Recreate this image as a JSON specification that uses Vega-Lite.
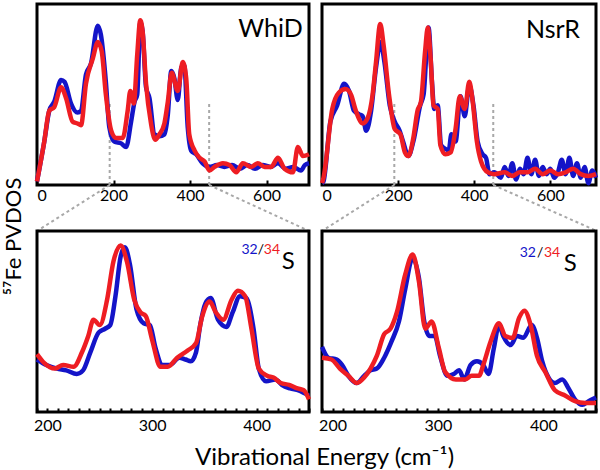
{
  "$schema": "https://vega.github.io/schema/vega-lite/v6.json",
  "background": "white",
  "padding": {"left": 0, "top": 2, "right": 0, "bottom": 0},
  "columns": 2,
  "spacing": {"row": 46, "column": 13},
  "bounds": "flush",
  "datasets": {
    "whid": [
      {"s":"32","e":0,"v":2},{"s":"32","e":19,"v":24},{"s":"32","e":32,"v":41},{"s":"32","e":45,"v":46},{"s":"32","e":63,"v":58},{"s":"32","e":72,"v":57},{"s":"32","e":89,"v":45},{"s":"32","e":106,"v":40},{"s":"32","e":115,"v":41},{"s":"32","e":128,"v":61},{"s":"32","e":141,"v":67},{"s":"32","e":159,"v":88},{"s":"32","e":167,"v":83},{"s":"32","e":180,"v":57},{"s":"32","e":189,"v":32},{"s":"32","e":202,"v":24},{"s":"32","e":220,"v":23},{"s":"32","e":233,"v":21},{"s":"32","e":246,"v":35},{"s":"32","e":255,"v":46},{"s":"32","e":262,"v":50},{"s":"32","e":270,"v":90},{"s":"32","e":276,"v":85},{"s":"32","e":285,"v":54},{"s":"32","e":294,"v":48},{"s":"32","e":307,"v":28},{"s":"32","e":320,"v":27},{"s":"32","e":333,"v":28},{"s":"32","e":342,"v":39},{"s":"32","e":351,"v":63},{"s":"32","e":359,"v":59},{"s":"32","e":368,"v":47},{"s":"32","e":377,"v":65},{"s":"32","e":385,"v":66},{"s":"32","e":394,"v":32},{"s":"32","e":403,"v":19},{"s":"32","e":416,"v":17},{"s":"32","e":433,"v":12},{"s":"32","e":451,"v":10},{"s":"32","e":470,"v":11},{"s":"32","e":490,"v":10},{"s":"32","e":510,"v":11},{"s":"32","e":530,"v":9},{"s":"32","e":550,"v":11},{"s":"32","e":570,"v":9},{"s":"32","e":590,"v":11},{"s":"32","e":610,"v":10},{"s":"32","e":630,"v":12},{"s":"32","e":650,"v":9},{"s":"32","e":670,"v":10},{"s":"32","e":690,"v":8},{"s":"32","e":700,"v":11},{"s":"32","e":711,"v":12},
      {"s":"34","e":0,"v":2},{"s":"34","e":19,"v":24},{"s":"34","e":32,"v":41},{"s":"34","e":45,"v":43},{"s":"34","e":63,"v":54},{"s":"34","e":76,"v":48},{"s":"34","e":93,"v":35},{"s":"34","e":106,"v":34},{"s":"34","e":115,"v":33},{"s":"34","e":128,"v":56},{"s":"34","e":146,"v":70},{"s":"34","e":159,"v":79},{"s":"34","e":169,"v":74},{"s":"34","e":180,"v":50},{"s":"34","e":194,"v":30},{"s":"34","e":207,"v":26},{"s":"34","e":224,"v":26},{"s":"34","e":237,"v":41},{"s":"34","e":244,"v":52},{"s":"34","e":253,"v":45},{"s":"34","e":262,"v":72},{"s":"34","e":270,"v":91},{"s":"34","e":276,"v":85},{"s":"34","e":285,"v":56},{"s":"34","e":298,"v":34},{"s":"34","e":309,"v":25},{"s":"34","e":320,"v":28},{"s":"34","e":333,"v":34},{"s":"34","e":342,"v":46},{"s":"34","e":352,"v":62},{"s":"34","e":368,"v":52},{"s":"34","e":381,"v":68},{"s":"34","e":390,"v":59},{"s":"34","e":398,"v":28},{"s":"34","e":412,"v":19},{"s":"34","e":425,"v":15},{"s":"34","e":438,"v":13},{"s":"34","e":451,"v":8},{"s":"34","e":464,"v":10},{"s":"34","e":486,"v":12},{"s":"34","e":503,"v":11},{"s":"34","e":521,"v":7},{"s":"34","e":538,"v":12},{"s":"34","e":560,"v":10},{"s":"34","e":577,"v":12},{"s":"34","e":595,"v":10},{"s":"34","e":612,"v":10},{"s":"34","e":630,"v":15},{"s":"34","e":647,"v":9},{"s":"34","e":669,"v":7},{"s":"34","e":682,"v":21},{"s":"34","e":695,"v":16},{"s":"34","e":711,"v":17}
    ],
    "nsrr": [
      {"s":"32","e":0,"v":1},{"s":"32","e":4,"v":2},{"s":"32","e":22,"v":35},{"s":"32","e":40,"v":44},{"s":"32","e":58,"v":56},{"s":"32","e":71,"v":52},{"s":"32","e":84,"v":41},{"s":"32","e":98,"v":39},{"s":"32","e":107,"v":38},{"s":"32","e":116,"v":30},{"s":"32","e":129,"v":41},{"s":"32","e":142,"v":65},{"s":"32","e":154,"v":79},{"s":"32","e":164,"v":68},{"s":"32","e":178,"v":44},{"s":"32","e":191,"v":35},{"s":"32","e":204,"v":30},{"s":"32","e":213,"v":24},{"s":"32","e":227,"v":16},{"s":"32","e":240,"v":24},{"s":"32","e":258,"v":44},{"s":"32","e":267,"v":50},{"s":"32","e":280,"v":87},{"s":"32","e":289,"v":57},{"s":"32","e":295,"v":42},{"s":"32","e":304,"v":44},{"s":"32","e":313,"v":22},{"s":"32","e":324,"v":20},{"s":"32","e":333,"v":19},{"s":"32","e":340,"v":28},{"s":"32","e":351,"v":24},{"s":"32","e":364,"v":49},{"s":"32","e":375,"v":38},{"s":"32","e":387,"v":55},{"s":"32","e":398,"v":44},{"s":"32","e":409,"v":24},{"s":"32","e":422,"v":17},{"s":"32","e":431,"v":15},{"s":"32","e":440,"v":6},{"s":"32","e":453,"v":7},{"s":"32","e":460,"v":6},{"s":"32","e":470,"v":4},{"s":"32","e":480,"v":10},{"s":"32","e":490,"v":5},{"s":"32","e":500,"v":12},{"s":"32","e":510,"v":3},{"s":"32","e":520,"v":9},{"s":"32","e":530,"v":6},{"s":"32","e":540,"v":15},{"s":"32","e":550,"v":6},{"s":"32","e":560,"v":14},{"s":"32","e":570,"v":5},{"s":"32","e":580,"v":10},{"s":"32","e":590,"v":6},{"s":"32","e":600,"v":9},{"s":"32","e":610,"v":4},{"s":"32","e":620,"v":7},{"s":"32","e":630,"v":14},{"s":"32","e":640,"v":6},{"s":"32","e":650,"v":15},{"s":"32","e":660,"v":5},{"s":"32","e":670,"v":12},{"s":"32","e":680,"v":4},{"s":"32","e":690,"v":10},{"s":"32","e":700,"v":1},{"s":"32","e":710,"v":8},{"s":"32","e":720,"v":4},
      {"s":"34","e":0,"v":1},{"s":"34","e":4,"v":4},{"s":"34","e":27,"v":42},{"s":"34","e":44,"v":51},{"s":"34","e":62,"v":53},{"s":"34","e":76,"v":50},{"s":"34","e":89,"v":41},{"s":"34","e":107,"v":34},{"s":"34","e":120,"v":37},{"s":"34","e":133,"v":50},{"s":"34","e":142,"v":68},{"s":"34","e":153,"v":89},{"s":"34","e":162,"v":77},{"s":"34","e":176,"v":50},{"s":"34","e":191,"v":31},{"s":"34","e":206,"v":28},{"s":"34","e":218,"v":18},{"s":"34","e":227,"v":16},{"s":"34","e":240,"v":26},{"s":"34","e":251,"v":41},{"s":"34","e":260,"v":46},{"s":"34","e":271,"v":74},{"s":"34","e":278,"v":87},{"s":"34","e":286,"v":68},{"s":"34","e":293,"v":44},{"s":"34","e":304,"v":42},{"s":"34","e":311,"v":22},{"s":"34","e":324,"v":17},{"s":"34","e":338,"v":18},{"s":"34","e":351,"v":31},{"s":"34","e":362,"v":49},{"s":"34","e":375,"v":42},{"s":"34","e":387,"v":57},{"s":"34","e":396,"v":46},{"s":"34","e":407,"v":24},{"s":"34","e":418,"v":13},{"s":"34","e":436,"v":7},{"s":"34","e":453,"v":6},{"s":"34","e":480,"v":7},{"s":"34","e":500,"v":5},{"s":"34","e":520,"v":7},{"s":"34","e":540,"v":7},{"s":"34","e":560,"v":9},{"s":"34","e":580,"v":6},{"s":"34","e":600,"v":8},{"s":"34","e":620,"v":6},{"s":"34","e":640,"v":7},{"s":"34","e":660,"v":9},{"s":"34","e":680,"v":6},{"s":"34","e":700,"v":5},{"s":"34","e":720,"v":6}
    ],
    "whidz": [
      {"s":"32","e":190,"v":29},{"s":"32","e":199,"v":26},{"s":"32","e":209,"v":24},{"s":"32","e":218,"v":23},{"s":"32","e":228,"v":21},{"s":"32","e":234,"v":23},{"s":"32","e":241,"v":33},{"s":"32","e":249,"v":44},{"s":"32","e":255,"v":46},{"s":"32","e":260,"v":48},{"s":"32","e":265,"v":64},{"s":"32","e":270,"v":86},{"s":"32","e":274,"v":91},{"s":"32","e":279,"v":81},{"s":"32","e":285,"v":57},{"s":"32","e":292,"v":49},{"s":"32","e":298,"v":48},{"s":"32","e":303,"v":36},{"s":"32","e":310,"v":26},{"s":"32","e":317,"v":26},{"s":"32","e":326,"v":30},{"s":"32","e":332,"v":29},{"s":"32","e":337,"v":28},{"s":"32","e":342,"v":33},{"s":"32","e":346,"v":48},{"s":"32","e":351,"v":60},{"s":"32","e":356,"v":63},{"s":"32","e":363,"v":51},{"s":"32","e":371,"v":47},{"s":"32","e":377,"v":55},{"s":"32","e":384,"v":64},{"s":"32","e":390,"v":63},{"s":"32","e":397,"v":46},{"s":"32","e":402,"v":24},{"s":"32","e":409,"v":17},{"s":"32","e":418,"v":18},{"s":"32","e":424,"v":15},{"s":"32","e":432,"v":13},{"s":"32","e":440,"v":12},{"s":"32","e":450,"v":9},
      {"s":"34","e":190,"v":32},{"s":"34","e":197,"v":27},{"s":"34","e":207,"v":24},{"s":"34","e":215,"v":26},{"s":"34","e":225,"v":25},{"s":"34","e":233,"v":33},{"s":"34","e":239,"v":42},{"s":"34","e":244,"v":51},{"s":"34","e":250,"v":48},{"s":"34","e":257,"v":62},{"s":"34","e":263,"v":83},{"s":"34","e":270,"v":92},{"s":"34","e":276,"v":83},{"s":"34","e":283,"v":62},{"s":"34","e":289,"v":55},{"s":"34","e":294,"v":53},{"s":"34","e":300,"v":40},{"s":"34","e":308,"v":25},{"s":"34","e":315,"v":25},{"s":"34","e":324,"v":30},{"s":"34","e":334,"v":34},{"s":"34","e":342,"v":38},{"s":"34","e":348,"v":53},{"s":"34","e":355,"v":61},{"s":"34","e":361,"v":55},{"s":"34","e":368,"v":51},{"s":"34","e":376,"v":62},{"s":"34","e":382,"v":67},{"s":"34","e":389,"v":64},{"s":"34","e":395,"v":46},{"s":"34","e":402,"v":24},{"s":"34","e":410,"v":20},{"s":"34","e":416,"v":19},{"s":"34","e":423,"v":16},{"s":"34","e":431,"v":15},{"s":"34","e":439,"v":13},{"s":"34","e":445,"v":12},{"s":"34","e":450,"v":7}
    ],
    "nsrrz": [
      {"s":"32","e":190,"v":36},{"s":"32","e":196,"v":30},{"s":"32","e":204,"v":29},{"s":"32","e":209,"v":26},{"s":"32","e":215,"v":20},{"s":"32","e":223,"v":16},{"s":"32","e":230,"v":20},{"s":"32","e":236,"v":23},{"s":"32","e":242,"v":24},{"s":"32","e":249,"v":30},{"s":"32","e":256,"v":39},{"s":"32","e":263,"v":50},{"s":"32","e":269,"v":68},{"s":"32","e":276,"v":85},{"s":"32","e":282,"v":74},{"s":"32","e":287,"v":50},{"s":"32","e":292,"v":42},{"s":"32","e":297,"v":42},{"s":"32","e":302,"v":31},{"s":"32","e":309,"v":20},{"s":"32","e":315,"v":21},{"s":"32","e":320,"v":23},{"s":"32","e":325,"v":18},{"s":"32","e":331,"v":26},{"s":"32","e":337,"v":28},{"s":"32","e":343,"v":26},{"s":"32","e":348,"v":21},{"s":"32","e":353,"v":35},{"s":"32","e":358,"v":48},{"s":"32","e":362,"v":42},{"s":"32","e":369,"v":37},{"s":"32","e":375,"v":42},{"s":"32","e":381,"v":41},{"s":"32","e":389,"v":48},{"s":"32","e":394,"v":41},{"s":"32","e":399,"v":28},{"s":"32","e":405,"v":19},{"s":"32","e":411,"v":16},{"s":"32","e":418,"v":18},{"s":"32","e":424,"v":13},{"s":"32","e":430,"v":7},{"s":"32","e":437,"v":4},{"s":"32","e":443,"v":6},{"s":"32","e":450,"v":8},
      {"s":"34","e":190,"v":30},{"s":"34","e":199,"v":29},{"s":"34","e":207,"v":24},{"s":"34","e":215,"v":20},{"s":"34","e":223,"v":16},{"s":"34","e":230,"v":19},{"s":"34","e":236,"v":24},{"s":"34","e":242,"v":31},{"s":"34","e":249,"v":43},{"s":"34","e":255,"v":46},{"s":"34","e":261,"v":55},{"s":"34","e":269,"v":76},{"s":"34","e":276,"v":87},{"s":"34","e":282,"v":72},{"s":"34","e":288,"v":46},{"s":"34","e":294,"v":50},{"s":"34","e":301,"v":35},{"s":"34","e":307,"v":22},{"s":"34","e":317,"v":18},{"s":"34","e":326,"v":18},{"s":"34","e":332,"v":20},{"s":"34","e":339,"v":20},{"s":"34","e":343,"v":26},{"s":"34","e":350,"v":39},{"s":"34","e":358,"v":49},{"s":"34","e":364,"v":42},{"s":"34","e":371,"v":41},{"s":"34","e":377,"v":52},{"s":"34","e":382,"v":56},{"s":"34","e":388,"v":48},{"s":"34","e":394,"v":31},{"s":"34","e":402,"v":22},{"s":"34","e":411,"v":12},{"s":"34","e":421,"v":9},{"s":"34","e":430,"v":6},{"s":"34","e":440,"v":5},{"s":"34","e":450,"v":5}
    ]
  },
  "concat": [
    {
      "width": 272, "height": 181,
      "layer": [
        {"data": {"values": [{"e": 190, "e2": 0}, {"e": 450, "e2": 711}]},
         "mark": {"type": "rule", "color": "#a8a8a8", "strokeWidth": 2, "strokeDash": [3, 3]},
         "encoding": {
           "x": {"field": "e", "type": "quantitative", "scale": {"domain": [0, 711], "nice": false, "zero": false},
                 "axis": {"values": [0,50,100,150,200,250,300,350,400,450,500,550,600,650,700], "labelExpr": "datum.value % 200 === 0 ? datum.label : ''", "labelOverlap": false, "tickSize": -5, "labelPadding": 7, "title": null}},
           "x2": {"field": "e2"},
           "y": {"datum": 0, "scale": {"domain": [0, 100], "nice": false},
                 "axis": {"title": "⁵⁷Fe PVDOS", "labels": false, "ticks": false, "domain": false, "titleFontSize": 22, "titleX": -12, "titleY": 232, "titleAlign": "center", "titleAngle": -90}},
           "y2": {"datum": -25.4}
         }},
        {"data": {"values": [{"e": 190}, {"e": 450}]},
         "mark": {"type": "rule", "color": "#a8a8a8", "strokeWidth": 2, "strokeDash": [3, 3]},
         "encoding": {
           "x": {"field": "e", "type": "quantitative", "scale": {"domain": [0, 711], "nice": false, "zero": false}},
           "y": {"datum": 0, "scale": {"domain": [0, 100], "nice": false}},
           "y2": {"datum": 45}
         }},
        {"data": {"name": "whid"},
         "mark": {"type": "line", "strokeWidth": 4.5, "interpolate": "monotone"},
         "encoding": {
           "x": {"field": "e", "type": "quantitative", "scale": {"domain": [0, 711], "nice": false, "zero": false}},
           "y": {"field": "v", "type": "quantitative", "scale": {"domain": [0, 100], "nice": false}},
           "color": {"field": "s", "type": "nominal", "scale": {"domain": ["32", "34"], "range": ["#1414c8", "#ee1d23"]}, "legend": null}
         }},
        {"data": {"values": [{"t": "WhiD"}]},
         "mark": {"type": "text", "align": "right", "baseline": "alphabetic", "fontSize": 25, "color": "black"},
         "encoding": {
           "x": {"datum": 695, "scale": {"domain": [0, 711], "nice": false, "zero": false}},
           "y": {"datum": 81.8, "scale": {"domain": [0, 100], "nice": false}},
           "text": {"field": "t"}
         }},
        {"data": {"values": [{"t": "32"}]},
         "mark": {"type": "text", "align": "right", "baseline": "alphabetic", "fontSize": 14, "color": "#1414c8"},
         "encoding": {"x": {"datum": 577, "scale": {"domain": [0, 711], "nice": false, "zero": false}}, "y": {"datum": -38.1, "scale": {"domain": [0, 100], "nice": false}}, "text": {"field": "t"}}},
        {"data": {"values": [{"t": "/"}]},
         "mark": {"type": "text", "align": "center", "baseline": "alphabetic", "fontSize": 14, "color": "black"},
         "encoding": {"x": {"datum": 585, "scale": {"domain": [0, 711], "nice": false, "zero": false}}, "y": {"datum": -38.1, "scale": {"domain": [0, 100], "nice": false}}, "text": {"field": "t"}}},
        {"data": {"values": [{"t": "34"}]},
         "mark": {"type": "text", "align": "left", "baseline": "alphabetic", "fontSize": 14, "color": "#ee1d23"},
         "encoding": {"x": {"datum": 593, "scale": {"domain": [0, 711], "nice": false, "zero": false}}, "y": {"datum": -38.1, "scale": {"domain": [0, 100], "nice": false}}, "text": {"field": "t"}}},
        {"data": {"values": [{"t": "S"}]},
         "mark": {"type": "text", "align": "left", "baseline": "alphabetic", "fontSize": 24, "color": "black"},
         "encoding": {"x": {"datum": 640, "scale": {"domain": [0, 711], "nice": false, "zero": false}}, "y": {"datum": -46.4, "scale": {"domain": [0, 100], "nice": false}}, "text": {"field": "t"}}}
      ]
    },
    {
      "width": 274, "height": 181,
      "layer": [
        {"data": {"values": [{"e": 190, "e2": 0}, {"e": 450, "e2": 722}]},
         "mark": {"type": "rule", "color": "#a8a8a8", "strokeWidth": 2, "strokeDash": [3, 3]},
         "encoding": {
           "x": {"field": "e", "type": "quantitative", "scale": {"domain": [0, 720], "nice": false, "zero": false},
                 "axis": {"values": [0,50,100,150,200,250,300,350,400,450,500,550,600,650,700], "labelExpr": "datum.value % 200 === 0 ? datum.label : ''", "labelOverlap": false, "tickSize": -5, "labelPadding": 7, "title": null}},
           "x2": {"field": "e2"},
           "y": {"datum": 0, "scale": {"domain": [0, 100], "nice": false}, "axis": null},
           "y2": {"datum": -25.4}
         }},
        {"data": {"values": [{"e": 190}, {"e": 450}]},
         "mark": {"type": "rule", "color": "#a8a8a8", "strokeWidth": 2, "strokeDash": [3, 3]},
         "encoding": {
           "x": {"field": "e", "type": "quantitative", "scale": {"domain": [0, 720], "nice": false, "zero": false}},
           "y": {"datum": 0, "scale": {"domain": [0, 100], "nice": false}},
           "y2": {"datum": 45}
         }},
        {"data": {"name": "nsrr"},
         "mark": {"type": "line", "strokeWidth": 4.5, "interpolate": "monotone"},
         "encoding": {
           "x": {"field": "e", "type": "quantitative", "scale": {"domain": [0, 720], "nice": false, "zero": false}},
           "y": {"field": "v", "type": "quantitative", "scale": {"domain": [0, 100], "nice": false}},
           "color": {"field": "s", "type": "nominal", "scale": {"domain": ["32", "34"], "range": ["#1414c8", "#ee1d23"]}, "legend": null}
         }},
        {"data": {"values": [{"t": "NsrR"}]},
         "mark": {"type": "text", "align": "right", "baseline": "alphabetic", "fontSize": 25, "color": "black"},
         "encoding": {
           "x": {"datum": 678, "scale": {"domain": [0, 720], "nice": false, "zero": false}},
           "y": {"datum": 81, "scale": {"domain": [0, 100], "nice": false}},
           "text": {"field": "t"}
         }}
      ]
    },
    {
      "width": 272, "height": 181,
      "layer": [
        {"data": {"name": "whidz"},
         "mark": {"type": "line", "strokeWidth": 4.5, "interpolate": "monotone"},
         "encoding": {
           "x": {"field": "e", "type": "quantitative", "scale": {"domain": [190, 450], "nice": false, "zero": false},
                 "axis": {"values": [190,200,210,220,230,240,250,260,270,280,290,300,310,320,330,340,350,360,370,380,390,400,410,420,430,440,450],
                          "labelExpr": "datum.value % 100 === 0 ? datum.label : ''",
                          "labelOverlap": false,
                          "tickSize": -4,
                          "labelPadding": 9,
                          "title": "Vibrational Energy (cm⁻¹)", "titleFontSize": 24, "titleX": 287, "titleY": 52, "titleAlign": "center", "titleBaseline": "alphabetic"}},
           "y": {"field": "v", "type": "quantitative", "scale": {"domain": [0, 100], "nice": false}, "axis": null},
           "color": {"field": "s", "type": "nominal", "scale": {"domain": ["32", "34"], "range": ["#1414c8", "#ee1d23"]}, "legend": null}
         }}
      ]
    },
    {
      "width": 274, "height": 181,
      "layer": [
        {"data": {"name": "nsrrz"},
         "mark": {"type": "line", "strokeWidth": 4.5, "interpolate": "monotone"},
         "encoding": {
           "x": {"field": "e", "type": "quantitative", "scale": {"domain": [190, 450], "nice": false, "zero": false},
                 "axis": {"values": [190,200,210,220,230,240,250,260,270,280,290,300,310,320,330,340,350,360,370,380,390,400,410,420,430,440,450],
                          "labelExpr": "datum.value % 100 === 0 ? datum.label : ''",
                          "labelOverlap": false, "tickSize": -4, "labelPadding": 9, "title": null}},
           "y": {"field": "v", "type": "quantitative", "scale": {"domain": [0, 100], "nice": false}, "axis": null},
           "color": {"field": "s", "type": "nominal", "scale": {"domain": ["32", "34"], "range": ["#1414c8", "#ee1d23"]}, "legend": null}
         }},
        {"data": {"values": [{"t": "32"}]},
         "mark": {"type": "text", "align": "right", "baseline": "alphabetic", "fontSize": 14, "color": "#1414c8"},
         "encoding": {
           "x": {"datum": 393, "type": "quantitative", "scale": {"domain": [190, 450], "nice": false, "zero": false},
                 "axis": {"values": [190,200,210,220,230,240,250,260,270,280,290,300,310,320,330,340,350,360,370,380,390,400,410,420,430,440,450], "labelExpr": "datum.value % 100 === 0 ? datum.label : ''", "labelOverlap": false, "tickSize": -4, "labelPadding": 9, "title": null}},
           "y": {"datum": 85.6, "type": "quantitative", "scale": {"domain": [0, 100], "nice": false}, "axis": null},
           "text": {"field": "t"}}},
        {"data": {"values": [{"t": "/"}]},
         "mark": {"type": "text", "align": "center", "baseline": "alphabetic", "fontSize": 14, "color": "black"},
         "encoding": {
           "x": {"datum": 397, "type": "quantitative", "scale": {"domain": [190, 450], "nice": false, "zero": false},
                 "axis": {"values": [190,200,210,220,230,240,250,260,270,280,290,300,310,320,330,340,350,360,370,380,390,400,410,420,430,440,450], "labelExpr": "datum.value % 100 === 0 ? datum.label : ''", "labelOverlap": false, "tickSize": -4, "labelPadding": 9, "title": null}},
           "y": {"datum": 85.6, "type": "quantitative", "scale": {"domain": [0, 100], "nice": false}, "axis": null},
           "text": {"field": "t"}}},
        {"data": {"values": [{"t": "34"}]},
         "mark": {"type": "text", "align": "left", "baseline": "alphabetic", "fontSize": 14, "color": "#ee1d23"},
         "encoding": {
           "x": {"datum": 400.6, "type": "quantitative", "scale": {"domain": [190, 450], "nice": false, "zero": false},
                 "axis": {"values": [190,200,210,220,230,240,250,260,270,280,290,300,310,320,330,340,350,360,370,380,390,400,410,420,430,440,450], "labelExpr": "datum.value % 100 === 0 ? datum.label : ''", "labelOverlap": false, "tickSize": -4, "labelPadding": 9, "title": null}},
           "y": {"datum": 85.6, "type": "quantitative", "scale": {"domain": [0, 100], "nice": false}, "axis": null},
           "text": {"field": "t"}}},
        {"data": {"values": [{"t": "S"}]},
         "mark": {"type": "text", "align": "left", "baseline": "alphabetic", "fontSize": 24, "color": "black"},
         "encoding": {
           "x": {"datum": 419.5, "type": "quantitative", "scale": {"domain": [190, 450], "nice": false, "zero": false},
                 "axis": {"values": [190,200,210,220,230,240,250,260,270,280,290,300,310,320,330,340,350,360,370,380,390,400,410,420,430,440,450], "labelExpr": "datum.value % 100 === 0 ? datum.label : ''", "labelOverlap": false, "tickSize": -4, "labelPadding": 9, "title": null}},
           "y": {"datum": 78, "type": "quantitative", "scale": {"domain": [0, 100], "nice": false}, "axis": null},
           "text": {"field": "t"}}}
      ]
    }
  ],
  "config": {
    "font": "Lato",
    "view": {"stroke": "black", "strokeWidth": 3},
    "axis": {"grid": false, "domain": false, "labelFont": "Lato", "labelFontSize": 16, "labelColor": "black", "tickColor": "black", "tickWidth": 2, "titleFont": "Lato", "titleFontWeight": "normal", "titleColor": "black"},
    "text": {"font": "Lato"}
  }
}
